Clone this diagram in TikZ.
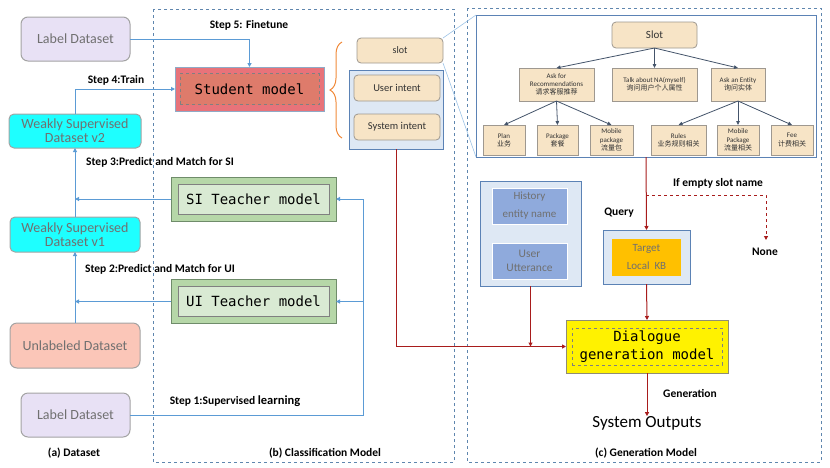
\documentclass[tikz,border=0pt]{standalone}
\usepackage{fontspec}
\setmainfont{Carlito}
\setmonofont{DejaVu Sans Mono}
\newfontfamily\cjk{Noto Sans CJK SC}
\usetikzlibrary{arrows.meta,decorations.pathreplacing}
\definecolor{arrblue}{HTML}{5B9BD5}
\definecolor{panelline}{HTML}{5F86AE}
\definecolor{boxgray}{HTML}{A3A3A3}
\definecolor{txtgray}{HTML}{707070}
\definecolor{lav}{HTML}{E8E1F5}
\definecolor{cyanf}{HTML}{1EFFFF}
\definecolor{salm}{HTML}{FBC6B8}
\definecolor{studout}{HTML}{E8737A}
\definecolor{studin}{HTML}{DE7B6B}
\definecolor{tgreen}{HTML}{B6D7A8}
\definecolor{tgreenb}{HTML}{6F8C6A}
\definecolor{tgreenin}{HTML}{D9EAD3}
\definecolor{wheatf}{HTML}{F7E4C6}
\definecolor{wheatb}{HTML}{9E9890}
\definecolor{lblue}{HTML}{DEE8F4}
\definecolor{lblueb}{HTML}{5B82B5}
\definecolor{hist}{HTML}{8FAADC}
\definecolor{kb}{HTML}{FFC000}
\definecolor{darkred}{HTML}{A81C1C}
\definecolor{treearr}{HTML}{44546A}
\definecolor{thinblue}{HTML}{9DC3E6}
\definecolor{bracec}{HTML}{F08A3A}
\begin{document}
\begin{tikzpicture}[x=1pt,y=-1pt,
  every node/.style={inner sep=0pt, outer sep=0pt},
  dsbox/.style={draw=boxgray, line width=1pt, rounded corners=7pt, text=txtgray, align=center, font=\fontsize{14}{16}\selectfont},
  stepl/.style={font=\bfseries\fontsize{11.5}{13}\selectfont, anchor=center},
  capl/.style={font=\bfseries\fontsize{11.5}{13}\selectfont},
  bar/.style={arrblue, line width=1pt, -{Triangle[length=4pt,width=4pt]}},
  bline/.style={arrblue, line width=1pt},
  rar/.style={darkred, line width=1pt, -{Triangle[length=4pt,width=4pt]}},
  tchout/.style={draw=tgreenb, line width=1pt, fill=tgreen, minimum width=165pt, minimum height=44pt},
  tchin/.style={draw=gray, line width=0.6pt, fill=tgreenin, minimum width=151pt, minimum height=30pt, font=\ttfamily\fontsize{14}{16}\selectfont},
  wbox/.style={draw=wheatb, line width=0.8pt, fill=wheatf, align=center, text=black!80},
  rwbox/.style={wbox, rounded corners=4pt},
  tarr/.style={treearr, line width=0.8pt, -{Triangle[length=4pt,width=3.5pt]}},
  tsmall/.style={font=\fontsize{7}{8.2}\selectfont},
]
\useasboundingbox (0,0) rectangle (830,467);
% panels
\draw[panelline, dashed, line width=0.8pt] (153,9) rectangle (454,462);
\draw[panelline, dashed, line width=0.8pt] (467,8) rectangle (821,462);

% dataset column
\node[dsbox, fill=lav, minimum width=109pt, minimum height=44pt] (labtop) at (75.5,39) {Label Dataset};
\node[dsbox, fill=cyanf, minimum width=132pt, minimum height=34pt, rounded corners=5pt] (ws2) at (75,131) {Weakly Supervised\\[-2pt]Dataset v2};
\node[dsbox, fill=cyanf, minimum width=130pt, minimum height=35pt, rounded corners=5pt] (ws1) at (75,234.5) {Weakly Supervised\\[-2pt]Dataset v1};
\node[dsbox, fill=salm, minimum width=130pt, minimum height=45pt] (unl) at (75,345.5) {Unlabeled Dataset};
\node[dsbox, fill=lav, minimum width=109pt, minimum height=44pt] (labbot) at (75.5,415) {Label Dataset};

% student
\node[draw=panelline!70, line width=1pt, fill=studout, minimum width=149pt, minimum height=44pt] (student) at (249.5,89) {};
\node[draw=gray, dashed, line width=0.6pt, fill=studin, minimum width=139pt, minimum height=31pt, font=\ttfamily\fontsize{14}{16}\selectfont] (studentin) at (student) {Student model};

% teachers
\node[tchout] (si) at (253.5,199) {};
\node[tchin] (siin) at (si) {SI Teacher model};
\node[tchout] (ui) at (253.5,301.5) {};
\node[tchin] (uiin) at (ui) {UI Teacher model};

% slot / intents
\node[rwbox, minimum width=86pt, minimum height=25pt, font=\fontsize{10}{12}\selectfont] (slot) at (400,50.5) {slot};
\node[draw=lblueb, line width=0.8pt, fill=lblue, minimum width=94pt, minimum height=79pt] (intents) at (396,109.5) {};
\node[rwbox, minimum width=86pt, minimum height=26pt, font=\fontsize{10.5}{12}\selectfont] (uint) at (397,88) {User intent};
\node[rwbox, minimum width=86pt, minimum height=26pt, font=\fontsize{10.5}{12}\selectfont] (sint) at (397,127) {System intent};
\draw[bracec, line width=1pt, decorate, decoration={brace, amplitude=12pt}] (342,138) -- (342,42);

% slot tree panel
\node[draw=lblueb, line width=1pt, fill=white, minimum width=340pt, minimum height=142pt] (tree) at (646,86) {};
\coordinate (treetl) at (tree.north west);
\coordinate (treebl) at (tree.south west);
\draw[thinblue, line width=0.6pt] (slot.north east) -- (treetl);
\draw[thinblue, line width=0.6pt] (slot.south east) -- (treebl);

\node[rwbox, minimum width=85pt, minimum height=26pt, font=\fontsize{11}{12}\selectfont] (slotroot) at (654.5,35) {Slot};
\node[wbox, tsmall, minimum width=75pt, minimum height=33pt] (askrec) at (556.5,84.5) {Ask for\\Recommendations\\{\cjk 请求客服推荐}};
\node[wbox, tsmall, minimum width=85pt, minimum height=33pt] (talk) at (654.5,84.5) {Talk about NA(myself)\\{\cjk 询问用户个人属性}};
\node[wbox, tsmall, minimum width=54pt, minimum height=33pt] (askent) at (738,84.5) {Ask an Entity\\{\cjk 询问实体}};
\node[wbox, tsmall, minimum width=42pt, minimum height=30pt] (plan) at (504,140) {Plan\\{\cjk 业务}};
\node[wbox, tsmall, minimum width=41pt, minimum height=30pt] (pack) at (557.5,140) {Package\\{\cjk 套餐}};
\node[wbox, tsmall, minimum width=43pt, minimum height=30pt] (mobpack) at (611.5,140) {Mobile\\package\\{\cjk 流量包}};
\node[wbox, tsmall, minimum width=55pt, minimum height=30pt] (rules) at (678.5,140) {Rules\\{\cjk 业务规则相关}};
\node[wbox, tsmall, minimum width=42pt, minimum height=30pt] (mobpack2) at (738,140) {Mobile\\Package\\{\cjk 流量相关}};
\node[wbox, tsmall, minimum width=42pt, minimum height=30pt] (fee) at (792,140) {Fee\\{\cjk 计费相关}};
\draw[tarr] (slotroot.south) -- (askrec.north);
\draw[tarr] (slotroot.south) -- (talk.north);
\draw[tarr] (slotroot.south) -- (askent.north);
\draw[tarr] (askrec.south) -- (plan.north);
\draw[tarr] (askrec.south) -- (pack.north);
\draw[tarr] (askrec.south) -- (mobpack.north);
\draw[tarr] (askent.south) -- (rules.north);
\draw[tarr] (askent.south) -- (mobpack2.north);
\draw[tarr] (askent.south) -- (fee.north);

% generation side
\node[draw=lblueb, line width=1pt, fill=lblue, minimum width=101pt, minimum height=105pt] (hu) at (530.5,233.5) {};
\node[fill=hist, draw=white, line width=0.6pt, minimum width=75pt, minimum height=36pt, text=txtgray, align=center, font=\fontsize{11}{18}\selectfont] (histn) at (529.5,206) {History\\entity\ name};
\node[fill=hist, draw=white, line width=0.6pt, minimum width=75pt, minimum height=36pt, text=txtgray, align=center, font=\fontsize{11.5}{14}\selectfont] (utt) at (529.5,261) {User\\Utterance};
\node[draw=lblueb, line width=1pt, fill=lblue, minimum width=87pt, minimum height=54pt] (target) at (646.5,257) {};
\node[fill=kb, minimum width=69pt, minimum height=37pt, text=txtgray, align=center, font=\fontsize{11}{18}\selectfont] (targetin) at (target) {Target\\Local\ \ KB};
\node[draw=gray!80!olive, line width=1pt, fill=yellow, minimum width=162pt, minimum height=53pt] (dial) at (647,346.5) {};
\node[draw=gray, dashed, line width=0.5pt, minimum width=150pt, minimum height=37pt, align=center, font=\ttfamily\fontsize{14}{18}\selectfont] (dialin) at (dial) {Dialogue\\generation\ model};
\node[font=\fontsize{17}{19}\selectfont] (out) at (647,423) {System Outputs};
\node[font=\bfseries\fontsize{11.5}{13}\selectfont] (nonel) at (765,252) {None};
\coordinate (nonetip) at (766,240);
\coordinate (branch) at (646,195);

% blue connectors
\draw[bar] (labtop.east) -| (student.north);
\draw[bar] (ws2.north) |- (student.west);
\draw[bar] (si.west) -- (ws2.south |- si.west);
\draw[bar] (ws1.north) -- (ws2.south);
\draw[bar] (ui.west) -- (ws1.south |- ui.west);
\draw[bar] (unl.north) -- (ws1.south);
\coordinate (vline) at (363,415);
\draw[bline] (labbot.east) -- (vline) -- (vline |- si.east);
\draw[bar] (vline |- si.east) -- (si.east);
\draw[bar] (vline |- ui.east) -- (ui.east);

% red connectors
\draw[rar] (intents.south) |- (dial.west);
\draw[rar] (hu.south) -- (hu.south |- dial.west);
\draw[rar] (tree.south) -- (target.north);
\draw[darkred, line width=1pt, dashed, -{Triangle[length=4pt,width=4pt]}] (branch) -| (nonetip);
\draw[rar] (target.south) -- (dial.north);
\draw[rar] (dial.south) -- (out.north);

% labels
\node[stepl] at (249,25) {Step 5: Finetune};
\node[stepl] at (116,80) {Step 4:Train};
\node[stepl] at (160,162) {Step 3:Predict and Match for SI};
\node[stepl] at (160,269) {Step 2:Predict and Match for UI};
\node[stepl] at (235,401) {Step 1:Supervised {\fontsize{12.5}{13}\selectfont learning}};
\node[stepl] at (718,183) {If empty slot name};
\node[stepl] at (619,213) {Query};
\node[stepl] at (690,393) {Generation};
\node[capl] at (74,453) {(a) Dataset};
\node[capl] at (325,453) {(b) Classification Model};
\node[capl] at (646,453) {(c) Generation Model};
\end{tikzpicture}
\end{document}
